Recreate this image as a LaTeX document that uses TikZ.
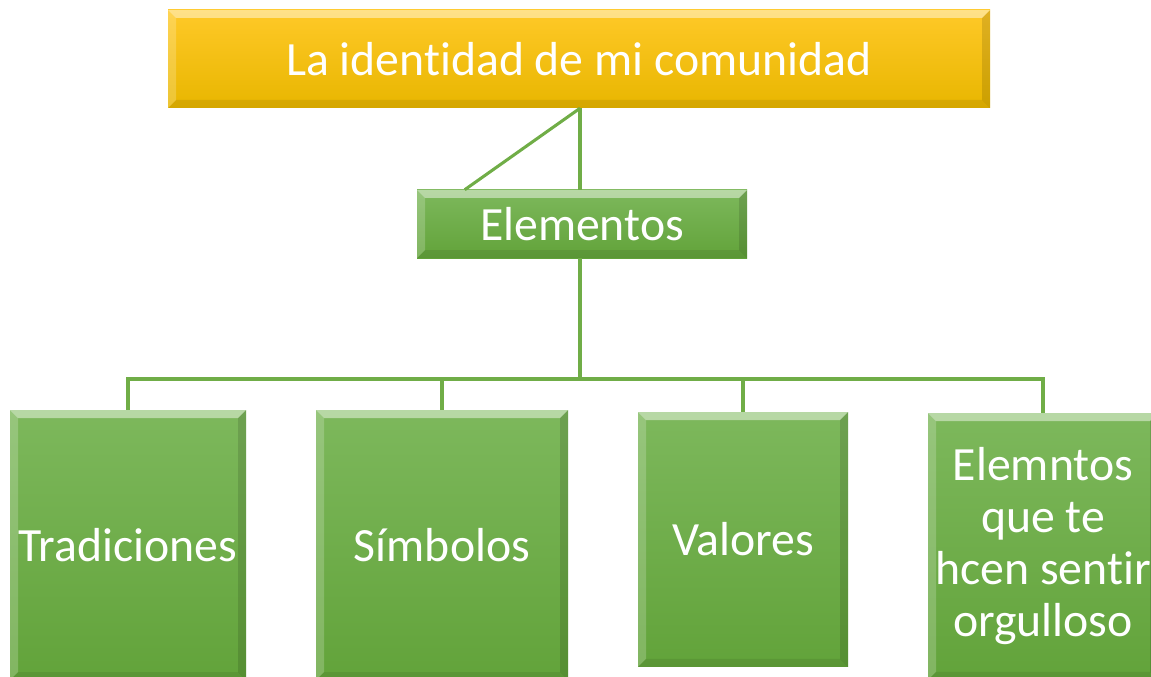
\documentclass[tikz,border=0pt]{standalone}
\usepackage{fontspec}
\setmainfont[Ligatures=NoCommon,RawFeature={-liga;-clig;-calt;-dlig}]{Carlito}
\definecolor{goldtop}{RGB}{255,201,40}
\definecolor{goldbot}{RGB}{232,182,0}
\definecolor{greentop}{RGB}{125,184,92}
\definecolor{greenbot}{RGB}{98,163,58}
\definecolor{linkgreen}{RGB}{112,173,71}
\tikzset{
  bevel/.style={path picture={
    \fill[white,opacity=.45] (path picture bounding box.north west) -- (path picture bounding box.north east)
      -- ([shift={(-6pt,-6pt)}]path picture bounding box.north east) -- ([shift={(6pt,-6pt)}]path picture bounding box.north west) -- cycle;
    \fill[white,opacity=.2] (path picture bounding box.north west) -- ([shift={(6pt,-6pt)}]path picture bounding box.north west)
      -- ([shift={(6pt,6pt)}]path picture bounding box.south west) -- (path picture bounding box.south west) -- cycle;
    \fill[black,opacity=.12] (path picture bounding box.north east) -- ([shift={(-6pt,-6pt)}]path picture bounding box.north east)
      -- ([shift={(-6pt,6pt)}]path picture bounding box.south east) -- (path picture bounding box.south east) -- cycle;
    \fill[black,opacity=.08] (path picture bounding box.south west) -- ([shift={(6pt,6pt)}]path picture bounding box.south west)
      -- ([shift={(-6pt,6pt)}]path picture bounding box.south east) -- (path picture bounding box.south east) -- cycle;
  }},
}
\begin{document}
\begin{tikzpicture}
	[x=0.75pt,y=-0.75pt,
	 box/.style={rectangle,inner sep=0pt,text=white,align=center,bevel,
	   font=\fontsize{35.8}{39}\selectfont},
	 titlebox/.style={box,top color=goldtop,bottom color=goldbot},
	 leafbox/.style={box,top color=greentop,bottom color=greenbot},
	 link/.style={linkgreen,line width=2.3pt}]
    \useasboundingbox (0,0) rectangle (1151,677);

    \node[titlebox,minimum width=616.5pt,minimum height=73.5pt] (top) at (579,59) {La identidad de mi comunidad};
    \node[leafbox,minimum width=247.5pt,minimum height=51pt] (elem) at (582,224) {Elementos};

    \node[leafbox,minimum width=177pt,minimum height=202.5pt] (trad) at (128,545) {Tradiciones};
    \node[leafbox,minimum width=189pt,minimum height=202.5pt] (simb) at (442,545) {Símbolos};
    \node[leafbox,minimum width=157.5pt,minimum height=191pt] (val) at (743,539.5) {Valores};
    \node[leafbox,minimum width=172.5pt,minimum height=200pt] (orgu) at (1043,546.5) {Elemntos\\que te\\hcen sentir\\orgulloso};

    \coordinate (bus) at (580,379);

    \draw[link] (bus |- top.south) -- (bus |- elem.north);
    \draw[link] (bus |- top.south) -- ([xshift=36pt]elem.north west);
    \draw[link] (bus |- elem.south) -- (bus);
    \draw[link] (trad.north) |- (bus);
    \draw[link] (simb.north) |- (bus);
    \draw[link] (val.north) |- (bus);
    \draw[link] (orgu.north) |- (bus);

\end{tikzpicture}
\end{document}
